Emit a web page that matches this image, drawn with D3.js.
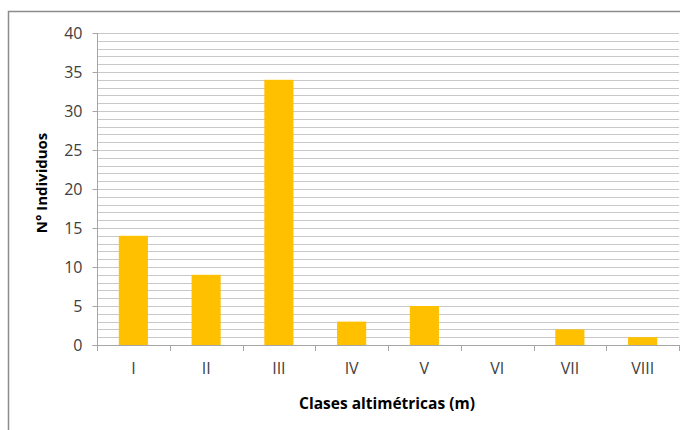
<!DOCTYPE html>
<html><head><meta charset="utf-8">
<script src="https://cdn.jsdelivr.net/npm/d3@7"></script>
<style>body{margin:0;background:#fff}svg{display:block}</style>
</head><body>
<svg id="c" width="680" height="430"></svg>
<script>
const categories = ["I","II","III","IV","V","VI","VII","VIII"];
const values = [14, 9, 34, 3, 5, 0, 2, 1];
const yTicks = [0,5,10,15,20,25,30,35,40];
const yMinor = d3.range(0, 41, 1);
const xTitle = "Clases altimétricas (m)";
const yTitle = "N° Individuos";

const svg = d3.select("#c");
const font = "'Open Sans', 'Liberation Sans', sans-serif";
const L = 97, R = 679, T = 33, B = 345;

// outer border
svg.append("path").attr("d", `M8.5,440 V11.5 H690`).attr("fill","none").attr("stroke","#8c8c8c").attr("stroke-width",1.5);

const x = d3.scaleBand().domain(categories).range([L, R]).paddingInner(0.6).paddingOuter(0.3);
const y = d3.scaleLinear().domain([0, 40]).range([B, T]);

// gridlines
svg.append("g").selectAll("line").data(yMinor.filter(d => d > 0)).join("line")
  .attr("x1", L).attr("x2", R).attr("y1", d => Math.round(y(d)) + 0.5).attr("y2", d => Math.round(y(d)) + 0.5)
  .attr("stroke", "#c8c8c8").attr("stroke-width", 1);

// bars
svg.append("g").selectAll("rect").data(values).join("rect")
  .attr("x", (d, i) => x(categories[i]))
  .attr("width", x.bandwidth())
  .attr("y", d => y(d))
  .attr("height", d => y(0) - y(d))
  .attr("fill", "#FFC000");

// y axis
const yAxis = d3.axisLeft(y).tickValues(yTicks).tickSize(5).tickPadding(10).tickFormat(d3.format("d"));
const gy = svg.append("g").attr("transform", `translate(${L + 0.5},0)`).call(yAxis);
gy.select(".domain").attr("stroke", "#a6a6a6").attr("d", `M-5,${B + 0.5}H0V${T}`);
gy.selectAll(".tick line").attr("stroke", "#a6a6a6");
gy.selectAll(".tick text").attr("font-family", font).attr("font-size", 16).attr("fill", "#404040");

// x axis
const xBand = d3.scaleBand().domain(categories).range([L, R]);
const xAxis = d3.axisBottom(x).tickSize(0).tickPadding(17);
const gx = svg.append("g").attr("transform", `translate(0,${B + 0.5})`).call(xAxis);
gx.select(".domain").attr("stroke", "#a6a6a6").attr("d", `M${L},0H${R}`);
gx.selectAll(".tick text").attr("font-family", font).attr("font-size", 16).attr("fill", "#404040");
svg.append("g").selectAll("line").data(categories.concat(["end"])).join("line")
  .attr("x1", (d, i) => Math.round(i < categories.length ? xBand(d) : R) + 0.5)
  .attr("x2", (d, i) => Math.round(i < categories.length ? xBand(d) : R) + 0.5)
  .attr("y1", B).attr("y2", B + 6).attr("stroke", "#a6a6a6");

// titles
svg.append("text").attr("x", 387).attr("y", 409).attr("text-anchor", "middle")
  .attr("font-family", font).attr("font-weight", "bold").attr("font-size", 15.5).attr("fill", "#000").text(xTitle);
svg.append("text").attr("transform", "translate(47,183) rotate(-90)").attr("text-anchor", "middle")
  .attr("font-family", font).attr("font-weight", "bold").attr("font-size", 15).attr("fill", "#000").text(yTitle);
</script>
</body></html>
